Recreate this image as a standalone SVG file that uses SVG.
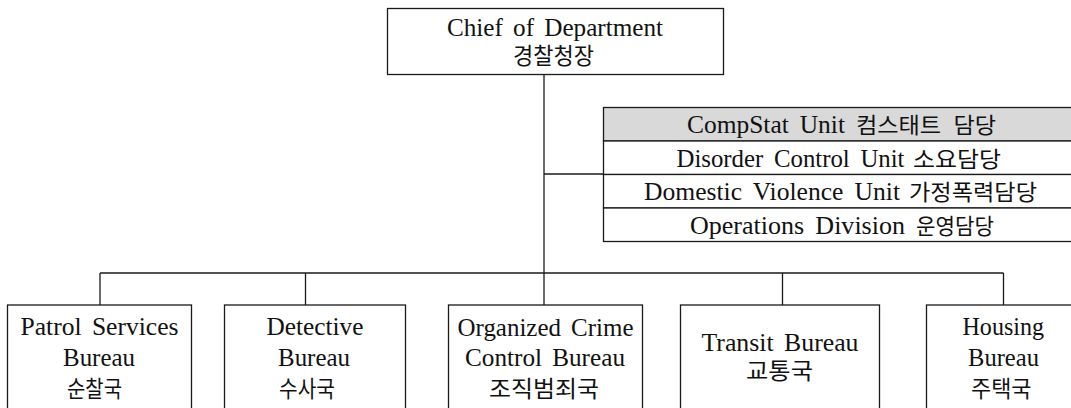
<svg xmlns="http://www.w3.org/2000/svg" width="1071" height="408" viewBox="0 0 1071 408">
  <style>
    .box { fill: #ffffff; stroke: #1a1a1a; stroke-width: 1.3; }
    .row { fill: #ffffff; stroke: #1a1a1a; stroke-width: 1.3; }
    .row.hl { fill: #d9d9d9; }
    .link { fill: none; stroke: #1a1a1a; stroke-width: 1.3; }
    text { font-family: "Liberation Serif", "Noto Sans CJK KR", serif; fill: #111111; }
    .lg { font-size: 26px; word-spacing: 4px; }
    .ko { font-size: 23px; }
    .lat { font-size: 25px; word-spacing: 4.5px; }
    .han { font-size: 21.5px; word-spacing: 6px; }
  </style>

  <!-- connectors -->
  <g id="connectors">
    <path class="link" d="M544 74.5 V273"/>
    <path class="link" d="M544 174 H603.5"/>
    <path class="link" d="M100 273 H1003.5"/>
    <path class="link" d="M100 273 V305"/>
    <path class="link" d="M305.5 273 V305"/>
    <path class="link" d="M544 273 V305"/>
    <path class="link" d="M782.5 273 V305"/>
    <path class="link" d="M1003.5 273 V305"/>
  </g>

  <!-- head of department -->
  <g id="chief">
    <rect class="box" x="387.5" y="8.5" width="336" height="66"/>
    <text class="lg" x="447" y="36" textLength="216" lengthAdjust="spacingAndGlyphs">Chief of Department</text>
    <text class="ko" x="513" y="64" font-size="25" textLength="81" lengthAdjust="spacingAndGlyphs">경찰청장</text>
  </g>

  <!-- staff units attached to the chief -->
  <g id="staff-units">
    <rect class="row hl" x="603.5" y="107.5" width="470" height="33.5"/>
    <rect class="row" x="603.5" y="141" width="470" height="33.5"/>
    <rect class="row" x="603.5" y="174.5" width="470" height="33.5"/>
    <rect class="row" x="603.5" y="208" width="470" height="33.5"/>
    <text y="133"><tspan class="lat" x="687" textLength="158" lengthAdjust="spacingAndGlyphs">CompStat Unit</tspan> <tspan class="han" x="856" textLength="140" lengthAdjust="spacingAndGlyphs">컴스태트 담당</tspan></text>
    <text y="166.5"><tspan class="lat" x="676.5" textLength="228" lengthAdjust="spacingAndGlyphs">Disorder Control Unit</tspan> <tspan class="han" x="913" textLength="88" lengthAdjust="spacingAndGlyphs">소요담당</tspan></text>
    <text y="200"><tspan class="lat" x="644" textLength="256" lengthAdjust="spacingAndGlyphs">Domestic Violence Unit</tspan> <tspan class="han" x="909" textLength="128" lengthAdjust="spacingAndGlyphs">가정폭력담당</tspan></text>
    <text y="233.5"><tspan class="lat" x="690" textLength="215" lengthAdjust="spacingAndGlyphs">Operations Division</tspan> <tspan class="han" x="916" textLength="78" lengthAdjust="spacingAndGlyphs">운영담당</tspan></text>
  </g>

  <!-- bureaus -->
  <g id="patrol">
    <rect class="box" x="7.5" y="305" width="184" height="120"/>
    <text class="lg" x="20.5" y="335" textLength="158" lengthAdjust="spacingAndGlyphs">Patrol Services</text>
    <text class="lg" x="63" y="366" textLength="72" lengthAdjust="spacingAndGlyphs">Bureau</text>
    <text class="ko" x="67" y="396.5" textLength="55" lengthAdjust="spacingAndGlyphs">순찰국</text>
  </g>

  <g id="detective">
    <rect class="box" x="224.5" y="305" width="181" height="120"/>
    <text class="lg" x="266.5" y="335" textLength="97" lengthAdjust="spacingAndGlyphs">Detective</text>
    <text class="lg" x="278" y="366" textLength="72" lengthAdjust="spacingAndGlyphs">Bureau</text>
    <text class="ko" x="279" y="396.5" textLength="56" lengthAdjust="spacingAndGlyphs">수사국</text>
  </g>

  <g id="organized-crime">
    <rect class="box" x="448.5" y="305" width="194" height="120"/>
    <text class="lg" x="457.5" y="335.5" textLength="176" lengthAdjust="spacingAndGlyphs">Organized Crime</text>
    <text class="lg" x="465" y="366" textLength="160" lengthAdjust="spacingAndGlyphs">Control Bureau</text>
    <text class="ko" x="489" y="396.5" textLength="110" lengthAdjust="spacingAndGlyphs">조직범죄국</text>
  </g>

  <g id="transit">
    <rect class="box" x="680.5" y="305" width="199" height="120"/>
    <text class="lg" x="701.5" y="350.5" textLength="157" lengthAdjust="spacingAndGlyphs">Transit Bureau</text>
    <text class="ko" x="746" y="379" textLength="67" lengthAdjust="spacingAndGlyphs">교통국</text>
  </g>

  <g id="housing">
    <rect class="box" x="926.5" y="305" width="155" height="120"/>
    <text class="lg" x="962.5" y="335" textLength="81.5" lengthAdjust="spacingAndGlyphs">Housing</text>
    <text class="lg" x="968" y="366" textLength="71" lengthAdjust="spacingAndGlyphs">Bureau</text>
    <text class="ko" x="971" y="396.5" textLength="60.5" lengthAdjust="spacingAndGlyphs">주택국</text>
  </g>
</svg>
